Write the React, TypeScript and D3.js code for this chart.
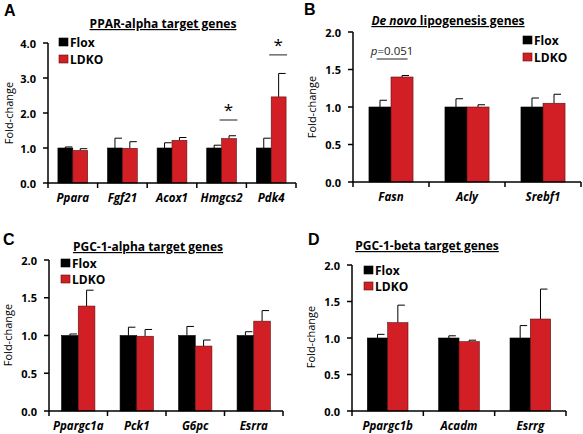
import React from 'react';
import * as d3 from 'd3';

// ---------- data ----------
const series = ['Flox', 'LDKO'];

const genesA = ['Ppara', 'Fgf21', 'Acox1', 'Hmgcs2', 'Pdk4'];
const floxA = [1.0, 1.0, 1.0, 1.0, 1.0];
const floxErrA = [0.03, 0.28, 0.15, 0.08, 0.28];
const ldkoA = [0.93, 0.99, 1.22, 1.27, 2.46];
const ldkoErrA = [0.05, 0.19, 0.08, 0.08, 0.67];
const ticksA = [0, 1, 2, 3, 4];
const sigA = [
  { gene: 'Hmgcs2', level: 1.8, label: '*' },
  { gene: 'Pdk4', level: 3.66, label: '*' },
];

const genesB = ['Fasn', 'Acly', 'Srebf1'];
const floxB = [1.0, 1.0, 1.0];
const floxErrB = [0.09, 0.11, 0.12];
const ldkoB = [1.4, 1.0, 1.05];
const ldkoErrB = [0.02, 0.03, 0.12];
const ticksB = [0, 0.5, 1, 1.5, 2];
const sigB = [{ gene: 'Fasn', level: 1.64, label: 'p=0.051' }];

const genesC = ['Ppargc1a', 'Pck1', 'G6pc', 'Esrra'];
const floxC = [1.0, 1.0, 1.0, 1.0];
const floxErrC = [0.02, 0.11, 0.12, 0.05];
const ldkoC = [1.39, 0.99, 0.86, 1.19];
const ldkoErrC = [0.21, 0.09, 0.08, 0.14];
const ticksC = [0, 0.5, 1, 1.5, 2];

const genesD = ['Ppargc1b', 'Acadm', 'Esrrg'];
const floxD = [1.0, 1.0, 1.0];
const floxErrD = [0.05, 0.03, 0.17];
const ldkoD = [1.21, 0.95, 1.26];
const ldkoErrD = [0.24, 0.02, 0.41];
const ticksD = [0, 0.5, 1, 1.5, 2];

// ---------- style ----------
const FONT = '"Open Sans", "Liberation Sans", Arial, sans-serif';
const RED = '#d21f26';
const colors = ['#000000', RED];

type Sig = { gene: string; level: number; label: string };

type PanelProps = {
  letter: string;
  letterX: number;
  letterY: number;
  title: React.ReactNode;
  titleX: number;
  titleY: number;
  genes: string[];
  flox: number[];
  floxErr: number[];
  ldko: number[];
  ldkoErr: number[];
  ticks: number[];
  sig?: Sig[];
  left: number;
  right: number;
  bottom: number;
  top: number;
  groupFrac: number;
  legendX: number;
  legendY: number;
  legendGap: number;
  ylabX: number;
  ylabY: number;
  sigMode?: 'ldko' | 'pair';
};

function Panel(p: PanelProps) {
  const max = p.ticks[p.ticks.length - 1];
  const y = d3.scaleLinear().domain([0, max]).range([p.bottom, p.top]);
  const x = d3.scaleBand<string>().domain(p.genes).range([p.left, p.right]).padding(0);
  const bw = x.bandwidth();
  const outer = (1 - p.groupFrac) / 2;
  const xs = d3
    .scaleBand<string>()
    .domain(series)
    .range([bw * outer, bw * (1 - outer)])
    .padding(0);
  const barW = xs.bandwidth();
  const vals = [p.flox, p.ldko];
  const errs = [p.floxErr, p.ldkoErr];
  const fmt = d3.format('.1f');
  const capW = 7;

  return (
    <g>
      <text x={p.letterX} y={p.letterY} fontFamily='"Liberation Sans", Arial, sans-serif' fontWeight="bold" fontSize={16}>
        {p.letter}
      </text>
      <text
        x={p.titleX}
        y={p.titleY}
        textAnchor="middle"
        fontFamily={FONT}
        fontWeight="bold"
        fontSize={12}
        textDecoration="underline"
      >
        {p.title}
      </text>
      <text
        transform={`translate(${p.ylabX},${p.ylabY}) rotate(-90)`}
        textAnchor="middle"
        fontFamily={FONT}
        fontSize={11}
        dominantBaseline="central"
      >
        Fold-change
      </text>

      {/* bars */}
      {p.genes.map((g, i) => (
        <g key={g}>
          {series.map((s, si) => {
            const v = vals[si][i];
            const e = errs[si][i];
            const bx = (x(g) as number) + (xs(s) as number);
            const cx = bx + barW / 2;
            return (
              <g key={s}>
                <line x1={cx} x2={cx} y1={y(v)} y2={y(v + e)} stroke="#000" strokeWidth={1} />
                <line x1={cx} x2={cx + capW} y1={y(v + e)} y2={y(v + e)} stroke="#000" strokeWidth={1} />
                <rect
                  x={bx}
                  y={y(v)}
                  width={barW}
                  height={p.bottom - y(v)}
                  fill={colors[si]}
                  stroke={si === 0 ? '#000' : '#5a1010'}
                  strokeWidth={0.6}
                />
              </g>
            );
          })}
        </g>
      ))}

      {/* y axis */}
      <line x1={p.left} x2={p.left} y1={p.bottom} y2={y(max)} stroke="#000" strokeWidth={1.5} />
      {p.ticks.map((t) => (
        <g key={t}>
          <line x1={p.left - 5} x2={p.left} y1={y(t)} y2={y(t)} stroke="#000" strokeWidth={1.5} />
          <text
            x={p.left - 12}
            y={y(t)}
            textAnchor="end"
            dominantBaseline="central"
            fontFamily={FONT}
            fontWeight="bold"
            fontSize={11}
          >
            {fmt(t)}
          </text>
        </g>
      ))}

      {/* x axis */}
      <line x1={p.left} x2={p.right} y1={p.bottom} y2={p.bottom} stroke="#000" strokeWidth={1.5} />
      {[...p.genes.map((g) => x(g) as number), p.right].map((bx, i) => (
        <line key={i} x1={bx} x2={bx} y1={p.bottom} y2={p.bottom + 5} stroke="#000" strokeWidth={1.5} />
      ))}
      {p.genes.map((g) => (
        <text
          key={g}
          x={(x(g) as number) + bw / 2}
          y={p.bottom + 19}
          textAnchor="middle"
          fontFamily={FONT}
          fontWeight="bold"
          fontStyle="italic"
          fontSize={11.5}
        >
          {g}
        </text>
      ))}

      {/* significance */}
      {(p.sig || []).map((s) => {
        const gx = x(s.gene) as number;
        let x1: number, x2: number;
        if (p.sigMode === 'pair') {
          x1 = gx + (xs('Flox') as number) + barW * 0.35;
          x2 = gx + (xs('LDKO') as number) + barW * 0.75;
        } else {
          x1 = gx + (xs('LDKO') as number) - 2;
          x2 = gx + (xs('LDKO') as number) + barW + 1;
        }
        const ly = y(s.level);
        const isStar = s.label === '*';
        return (
          <g key={s.gene}>
            <line x1={x1} x2={x2} y1={ly} y2={ly} stroke="#222" strokeWidth={1} />
            {isStar ? (
              <text
                x={(x1 + x2) / 2}
                y={ly - 4}
                textAnchor="middle"
                fontFamily={FONT}
                fontSize={17}
              >
                *
              </text>
            ) : (
              <text x={(x1 + x2) / 2} y={ly - 4} textAnchor="middle" fontFamily={FONT} fontSize={11.5} fill="#222">
                <tspan fontStyle="italic">p</tspan>
                {s.label.slice(1)}
              </text>
            )}
          </g>
        );
      })}

      {/* legend */}
      {series.map((s, si) => (
        <g key={s} transform={`translate(${p.legendX},${p.legendY + si * p.legendGap})`}>
          <rect x={0} y={0} width={9} height={8} fill={colors[si]} stroke={si === 0 ? '#000' : '#5a1010'} strokeWidth={0.6} />
          <text x={11} y={4} dominantBaseline="central" fontFamily={FONT} fontWeight="bold" fontSize={12}>
            {s}
          </text>
        </g>
      ))}
    </g>
  );
}

export default function App() {
  return (
    <svg
      width={583}
      height={434}
      viewBox="0 0 583 434"
      style={{ position: 'absolute', left: 0, top: 0, background: '#fff' }}
    >
      <rect x={0} y={0} width={583} height={434} fill="#fff" />
      <Panel
        letter="A"
        letterX={4}
        letterY={16}
        title="PPAR-alpha target genes"
        titleX={163}
        titleY={28}
        genes={genesA}
        flox={floxA}
        floxErr={floxErrA}
        ldko={ldkoA}
        ldkoErr={ldkoErrA}
        ticks={ticksA}
        sig={sigA}
        left={48}
        right={296}
        bottom={183}
        top={43}
        groupFrac={0.6}
        legendX={59}
        legendY={38}
        legendGap={17}
        ylabX={8}
        ylabY={113}
        sigMode="ldko"
      />
      <Panel
        letter="B"
        letterX={304}
        letterY={15}
        title={
          <>
            <tspan fontStyle="italic">De novo</tspan> lipogenesis genes
          </>
        }
        titleX={448}
        titleY={25}
        genes={genesB}
        flox={floxB}
        floxErr={floxErrB}
        ldko={ldkoB}
        ldkoErr={ldkoErrB}
        ticks={ticksB}
        sig={sigB}
        left={353}
        right={581}
        bottom={182}
        top={32}
        groupFrac={0.58}
        legendX={523}
        legendY={36}
        legendGap={17}
        ylabX={311}
        ylabY={107}
        sigMode="pair"
      />
      <Panel
        letter="C"
        letterX={3}
        letterY={245}
        title="PGC-1-alpha target genes"
        titleX={148}
        titleY={251}
        genes={genesC}
        flox={floxC}
        floxErr={floxErrC}
        ldko={ldkoC}
        ldkoErr={ldkoErrC}
        ticks={ticksC}
        left={49}
        right={283}
        bottom={411}
        top={260}
        groupFrac={0.57}
        legendX={61}
        legendY={259}
        legendGap={16}
        ylabX={7}
        ylabY={335}
      />
      <Panel
        letter="D"
        letterX={308}
        letterY={245}
        title="PGC-1-beta target genes"
        titleX={427}
        titleY={250}
        genes={genesD}
        flox={floxD}
        floxErr={floxErrD}
        ldko={ldkoD}
        ldkoErr={ldkoErrD}
        ticks={ticksD}
        left={352}
        right={566}
        bottom={411}
        top={265}
        groupFrac={0.57}
        legendX={364}
        legendY={266}
        legendGap={16}
        ylabX={310}
        ylabY={337}
      />
    </svg>
  );
}
